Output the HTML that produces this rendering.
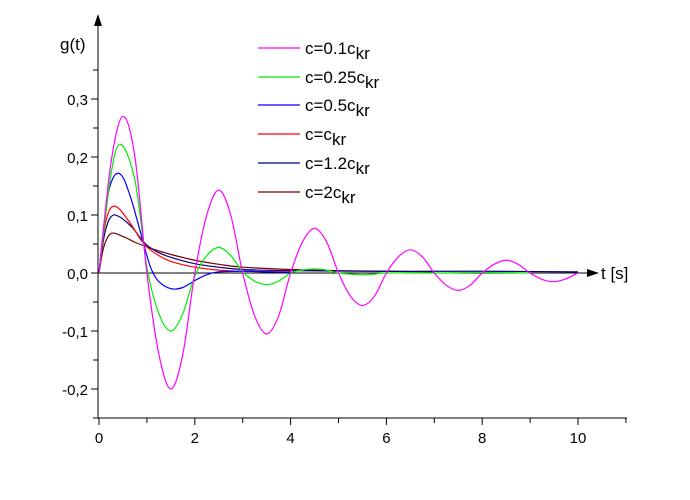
<!DOCTYPE html>
<html><head><meta charset="utf-8"><style>
body{margin:0;background:#fff}
svg{display:block;font-family:"Liberation Sans",Arial,sans-serif}
</style></head><body>
<svg id="chart" width="690" height="500" viewBox="0 0 690 500" xmlns="http://www.w3.org/2000/svg"></svg>
<script>
const xTicks=[0,2,4,6,8,10];
const yTicks=[-0.2,-0.1,0,0.1,0.2,0.3];
const yTickLabels=["-0,2","-0,1","0,0","0,1","0,2","0,3"];
const seriesNames=["c=0.1c","c=0.25c","c=0.5c","c=c","c=1.2c","c=2c"];
const seriesColors=["#ff00ff","#00ee00","#0000ff","#ff0000","#000080","#800000"];
const tMag=[0,.25,.5,.75,1,1.25,1.5,1.75,2,2.25,2.5,2.75,3,3.25,3.5,3.75,4,4.25,4.5,4.75,5,5.25,5.5,5.75,6,6.25,6.5,6.75,7,7.25,7.5,7.75,8,8.25,8.5,8.75,9,9.25,9.5,9.75,10];
const vMag=[0,.19,.27,.2,0,-.14,-.2,-.14,0,.1,.143,.1,0,-.074,-.105,-.074,0,.054,.077,.054,0,-.04,-.056,-.04,0,.028,.04,.028,0,-.021,-.03,-.021,0,.015,.022,.015,0,-.011,-.015,-.01,0];
const tGrn=[0,.25,.45,.75,1,1.25,1.5,1.75,2,2.25,2.5,2.75,3,3.25,3.5,3.75,4,4.25,4.5,4.75,5,5.25,5.5,5.75,6,7,8,9];
const vGrn=[0,.17,.222,.16,.01,-.07,-.1,-.07,-.005,.03,.044,.03,.002,-.014,-.02,-.014,0,.005,.007,.005,0,-.002,-.003,-.002,0,0,.001,0];
const tBlu=[0,.1,.2,.3,.4,.5,.6,.7,.8,.9,1,1.1,1.25,1.5,1.75,2,2.25,2.5,3,3.5,4];
const vBlu=[0,.08,.14,.165,.172,.165,.145,.12,.09,.06,.03,.005,-.015,-.027,-.025,-.013,-.003,.002,.003,.002,.001];
const tRed=[0,.1,.2,.3,.4,.5,.7,.85,1,1.25,1.5,2,2.5,3,4];
const vRed=[0,.07,.105,.115,.112,.103,.08,.06,.045,.03,.02,.01,.005,.003,.002];
const tNav=[0,.1,.2,.3,.4,.5,.7,.85,1,1.25,1.5,2,2.5,3,4,6,8,10];
const vNav=[0,.06,.09,.1,.098,.093,.078,.062,.048,.035,.027,.016,.01,.006,.004,.003,.003,.002];
const tDrd=[0,.1,.25,.5,.75,1,1.25,1.5,2,2.5,3,4,5,7];
const vDrd=[0,.045,.068,.063,.053,.045,.038,.032,.022,.015,.01,.006,.004,.002];
const seriesT=[tMag,tGrn,tBlu,tRed,tNav,tDrd];
const seriesV=[vMag,vGrn,vBlu,vRed,vNav,vDrd];

const NS="http://www.w3.org/2000/svg";
const svg=document.getElementById('chart');
const X=t=>99+t*47.9;
const Y=v=>273-v*580;
function mk(tag,attrs,parent){const e=document.createElementNS(NS,tag);for(const k in attrs)e.setAttribute(k,attrs[k]);(parent||svg).appendChild(e);return e;}

// axes
let e;
e=mk('line',{x1:98,y1:24,x2:98,y2:418,stroke:'#000','stroke-width':1});


e=mk('polygon',{points:'98,14 94,26 102,26',fill:'#000'});


e=mk('line',{x1:98,y1:418,x2:627,y2:418,stroke:'#000','stroke-width':1});


e=mk('line',{x1:98,y1:273,x2:592,y2:273,stroke:'#000','stroke-width':1});


e=mk('polygon',{points:'599,273 587,269 587,277',fill:'#000'});


e=mk('text',{x:601,y:279,'font-size':17,fill:'#000'});e.textContent='t [s]';


e=mk('text',{x:60,y:50,'font-size':17,fill:'#000'});e.textContent='g(t)';



// y ticks
for(let k=-5;k<=7;k++){const v=k*0.05;const y=Y(v);
 const major=(k%2===0);
 e=mk('line',{x1:major?91:93,y1:y,x2:98,y2:y,stroke:'#000'});
 
 }
yTicks.forEach((v,i)=>{e=mk('text',{x:88,y:Y(v)+6,'font-size':15,'text-anchor':'end',fill:'#000'});e.textContent=yTickLabels[i];
 
 });
// x ticks
for(let t=0;t<=11;t++){const x=X(t);
 e=mk('line',{x1:x,y1:418,x2:x,y2:t%2===0?425:423,stroke:'#000'});
 
 }
xTicks.forEach(t=>{e=mk('text',{x:X(t),y:443,'font-size':15,'text-anchor':'middle',fill:'#000'});e.textContent=String(t);
 
 });

function pathFor(ts,vs){const p=ts.map((t,i)=>[X(t),Y(vs[i])]);
 let d='M'+p[0][0]+','+p[0][1];
 for(let i=0;i<p.length-1;i++){const p0=p[Math.max(0,i-1)],p1=p[i],p2=p[i+1],p3=p[Math.min(p.length-1,i+2)];
  const c1=[p1[0]+(p2[0]-p0[0])/6,p1[1]+(p2[1]-p0[1])/6],c2=[p2[0]-(p3[0]-p1[0])/6,p2[1]-(p3[1]-p1[1])/6];
  d+=' C'+c1.join(',')+' '+c2.join(',')+' '+p2.join(',');}
 return d;}
const seriesKeys=['series-c-0-1','series-c-0-25','series-c-0-5','series-c-1','series-c-1-2','series-c-2'];
for(let s=seriesT.length-1;s>=0;s--){
 e=mk('path',{d:pathFor(seriesT[s],seriesV[s]),fill:'none',stroke:seriesColors[s],'stroke-width':1.2});
 
 }

// legend
const legY=[48,77,105,134,163,192];
seriesNames.forEach((n,i)=>{
 e=mk('line',{x1:258,y1:legY[i],x2:300,y2:legY[i],stroke:seriesColors[i],'stroke-width':1.2});
 
 
 const t=mk('text',{x:305,y:legY[i]+6,'font-size':17,fill:'#000'});
 
 
 t.appendChild(document.createTextNode(n));
 const sub=mk('tspan',{dy:5,'font-size':17},t);sub.textContent='kr';
});
</script>
</body></html>
